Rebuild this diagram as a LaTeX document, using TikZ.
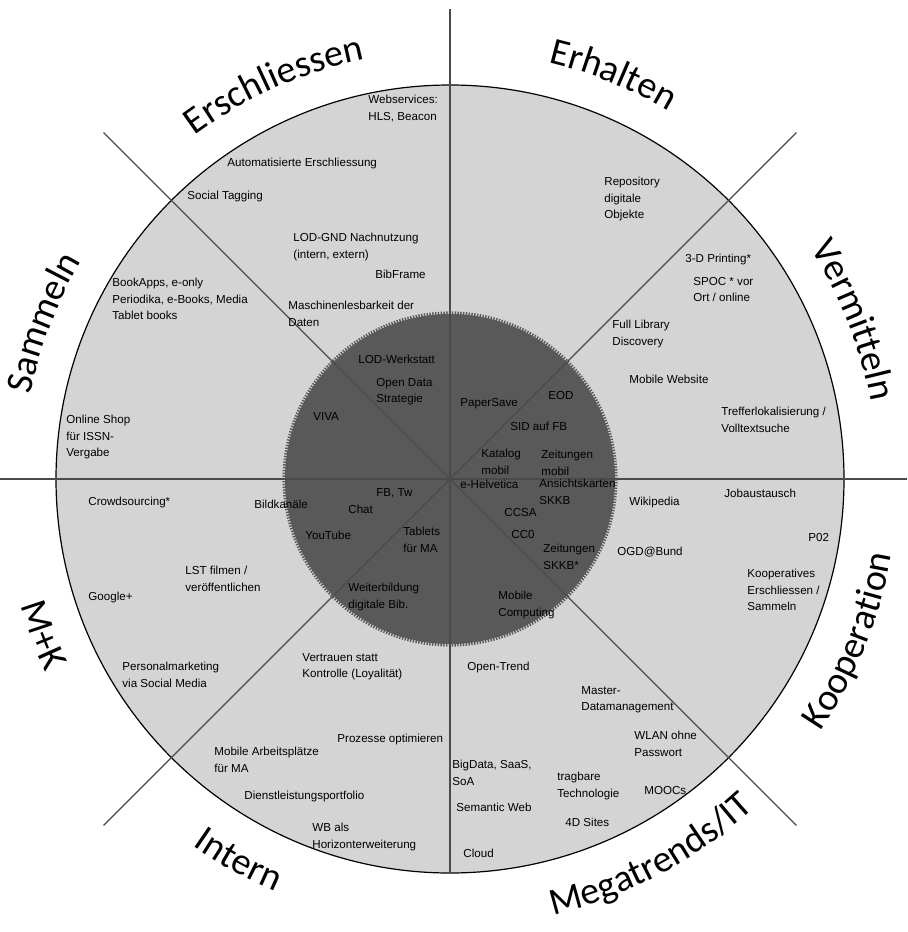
\documentclass[tikz,border=0pt]{standalone}
\usepackage{fontspec}
\setmainfont{Liberation Sans}
\newfontfamily\titlefont{Carlito}
\usetikzlibrary{calc,decorations.text}
\definecolor{ringgray}{HTML}{D4D4D4}
\definecolor{coregray}{HTML}{595959}
\definecolor{linegray}{HTML}{4A4A4A}

\begin{document}
\begin{tikzpicture}[x=0.5pt,y=0.5pt,
  lbl/.style={anchor=north west,inner sep=0pt,align=left,font=\fontsize{5.8}{8.1}\selectfont},
  ringtitle/.style={decorate,decoration={text along path,text align=center,
    text={|\titlefont\fontsize{19}{19}\selectfont|#1}}}]
  \useasboundingbox (0,-932) rectangle (907,0);
  \coordinate (c) at (450,-479);
  % rings
  \fill[ringgray,draw=black,line width=0.6pt] (c) circle (394);
  \fill[coregray] (c) circle (165);
  \draw[coregray,line width=1.6pt,dash pattern=on 0.7pt off 0.7pt] (c) circle (166);
  % sector lines
  \draw[linegray,line width=0.6pt] ($(c)+(-450,0)$) -- ($(c)+(457,0)$);
  \draw[linegray,line width=0.6pt] ($(c)+(0,470)$) -- ($(c)+(0,-394)$);
  \foreach \a in {45,135,-45,-135}{\draw[linegray,line width=0.6pt] (c) -- ($(c)+(\a:490)$);}
  % titles
  \foreach \t/\a in {Erschliessen/114,Erhalten/68,Vermitteln/21.5,Sammeln/159}{
    \path[ringtitle/.expanded=\t] ($(c)+(\a+40:428)$) arc[start angle=\a+40,end angle=\a-40,radius=428];
  }
  \foreach \t/\a in {Kooperation/-22,{Megatrends/IT}/-62,Intern/-119,M+K/-159}{
    \path[ringtitle/.expanded=\t] ($(c)+(\a-40:448)$) arc[start angle=\a-40,end angle=\a+40,radius=448];
  }
  % labels
  \foreach \x/\y/\t [count=\i] in {
    368/95/{Webservices:\\HLS, Beacon},227/158/{Automatisierte Erschliessung},187/191/{Social Tagging},
    293/233/{LOD-GND Nachnutzung\\(intern, extern)},375/270/{BibFrame},288/301/{Maschinenlesbarkeit der\\Daten},
    112/278/{BookApps, e-only\\Periodika, e-Books, Media\\Tablet books},66/415/{Online Shop\\für ISSN-\\Vergabe},
    604/177/{Repository\\digitale\\Objekte},685/254/{3-D Printing*},693/277/{SPOC * vor\\Ort / online},
    612/320/{Full Library\\Discovery},629/375/{Mobile Website},721/407/{Trefferlokalisierung /\\Volltextsuche},
    358/355/{LOD-Werkstatt},376/378/{Open Data\\Strategie},313/412/{VIVA},460/398/{PaperSave},548/391/{EOD},
    510/422/{SID auf FB},481/449/{Katalog\\mobil},541/450/{Zeitungen\\mobil},460/480/{e-Helvetica},
    539/479/{Ansichtskarten\\SKKB},376/488/{FB, Tw},348/505/{Chat},305/531/{YouTube},403/527/{Tablets\\für MA},
    504/508/{CCSA},511/530/{CC0},543/544/{Zeitungen\\SKKB*},348/583/{Weiterbildung\\digitale Bib.},
    498/591/{Mobile\\Computing},88/497/{Crowdsourcing*},254/500/{Bildkanäle},185/566/{LST filmen /\\veröffentlichen},
    88/592/{Google+},122/662/{Personalmarketing\\via Social Media},629/497/{Wikipedia},724/489/{Jobaustausch},
    808/533/{P02},617/547/{OGD@Bund},747/569/{Kooperatives\\Erschliessen /\\Sammeln},
    302/653/{Vertrauen statt\\Kontrolle (Loyalität)},337/734/{Prozesse optimieren},214/747/{Mobile Arbeitsplätze\\für MA},
    244/791/{Dienstleistungsportfolio},312/823/{WB als\\Horizonterweiterung},467/662/{Open-Trend},
    581/686/{Master-\\Datamanagement},634/731/{WLAN ohne\\Passwort},452/760/{BigData, SaaS,\\SoA},
    557/772/{tragbare\\Technologie},644/786/{MOOCs},456/803/{Semantic Web},565/818/{4D Sites},463/849/{Cloud}}{
    \node[lbl] (lab\i) at (\x,-\y) {\t};
  }
\end{tikzpicture}
\end{document}
